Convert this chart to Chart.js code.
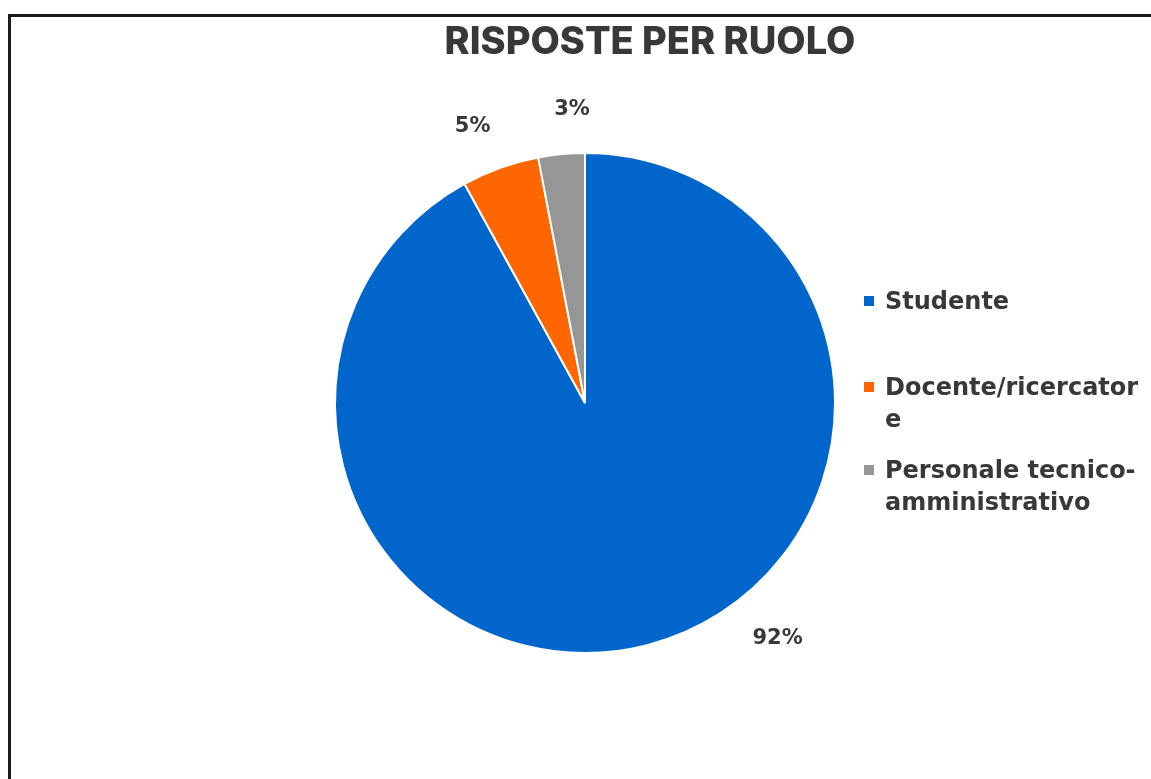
<!DOCTYPE html>
<html>
<head>
<meta charset="utf-8">
<script src="https://cdn.jsdelivr.net/npm/chart.js@4.4.1/dist/chart.umd.min.js"></script>
<style>
  html, body { margin:0; padding:0; background:#fff; overflow:hidden; }
  #wrap { position:relative; width:1151px; height:779px; }
  #frame { position:absolute; left:8px; top:14px; width:1400px; height:1000px;
           border-left:3px solid #1b1b1b; border-top:3px solid #1b1b1b; }
  canvas { position:absolute; left:0; top:0; }
  #title { position:absolute; left:0; width:1300px; top:17px; text-align:center;
           font-family:Inter, sans-serif; font-weight:800; font-size:38px; color:#383838; }
  #legend { position:absolute; left:864px; top:0; font-family:"DejaVu Sans", sans-serif; font-weight:bold;
            font-size:24px; color:#383838; }
  .item { position:absolute; left:0; width:290px; line-height:32px; }
  .box { position:absolute; left:0; top:11px; width:10px; height:10px; }
  .txt { position:absolute; left:21px; width:266px; overflow-wrap:anywhere; white-space:normal; }
</style>
</head>
<body>
<div id="wrap">
  <div id="frame"></div>
  <canvas id="c" width="1151" height="779"></canvas>
  <div id="title"></div>
  <div id="legend"></div>
</div>
<script>
const titleText = "RISPOSTE PER RUOLO";
const categories = ["Studente", "Docente/ricercatore", "Personale tecnico-amministrativo"];
const values = [92, 5, 3];
const colors = ["#0066CC", "#FF6600", "#969696"];
const legendTops = [285, 371, 454];

document.getElementById('title').textContent = titleText;
const lg = document.getElementById('legend');
categories.forEach((c, i) => {
  const it = document.createElement('div');
  it.className = 'item';
  it.style.top = legendTops[i] + 'px';
  it.innerHTML = '<div class="box" style="background:' + colors[i] + '"></div><div class="txt"></div>';
  it.querySelector('.txt').textContent = c;
  lg.appendChild(it);
});

const labelPlugin = {
  id: 'pctLabels',
  afterDatasetsDraw(chart, args, opts) {
    const ctx = chart.ctx;
    const meta = chart.getDatasetMeta(0);
    const data = chart.data.datasets[0].data;
    const total = data.reduce((a, b) => a + b, 0);
    const size = 21;
    ctx.save();
    ctx.font = 'bold ' + size + 'px "DejaVu Sans", sans-serif';
    ctx.fillStyle = '#383838';
    ctx.textAlign = 'center';
    ctx.textBaseline = 'alphabetic';
    meta.data.forEach((arc, i) => {
      const p = arc.getProps(['x', 'y', 'startAngle', 'endAngle', 'outerRadius'], true);
      const a = p.startAngle + opts.fractions[i] * (p.endAngle - p.startAngle);
      const r = p.outerRadius * opts.radiusFactors[i];
      const txt = Math.round(data[i] / total * 100) + '%';
      ctx.fillText(txt, p.x + r * Math.cos(a), p.y + r * Math.sin(a) + 0.365 * size);
    });
    ctx.restore();
  }
};

new Chart(document.getElementById('c'), {
  type: 'pie',
  data: {
    labels: categories,
    datasets: [{
      data: values,
      backgroundColor: colors,
      borderColor: '#ffffff',
      borderWidth: 2
    }]
  },
  options: {
    responsive: false,
    animation: false,
    layout: { padding: { left: 334, right: 315, top: 152, bottom: 125 } },
    plugins: {
      legend: { display: false },
      title: { display: false },
      tooltip: { enabled: false },
      pctLabels: { fractions: [0.424, 0.38, 0.766], radiusFactors: [1.209, 1.202, 1.182] }
    }
  },
  plugins: [labelPlugin]
});
</script>
</body>
</html>
